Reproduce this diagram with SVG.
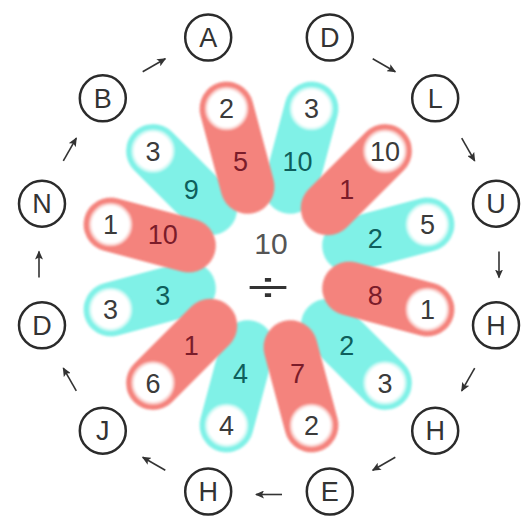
<svg xmlns="http://www.w3.org/2000/svg" width="523" height="522" viewBox="0 0 523 522">
<style>
.red{fill:#f4837d}
.cyan{fill:#80f1e7}
.wr{fill:#fff;stroke:#fad2cf;stroke-width:2.5}
.wc{fill:#fff;stroke:#d0f9f5;stroke-width:2.5}
.num{font-family:"Liberation Sans",Arial,sans-serif;font-size:27px;text-anchor:middle;fill:#3b3b3b}
.nr{fill:#7b1c2a}
.nc{fill:#0e5f5c}
.ring{fill:#fff;stroke:#2b2b2b;stroke-width:2.5}
.let{font-family:"Liberation Sans",Arial,sans-serif;font-size:27px;text-anchor:middle;fill:#333}
.arr{stroke:#333;stroke-width:1.6;fill:none;marker-end:url(#ah)}
.ctr{font-family:"Liberation Sans",Arial,sans-serif;font-size:30px;text-anchor:middle;fill:#555}
.div{font-family:"Liberation Sans",Arial,sans-serif;font-size:42px;text-anchor:middle;fill:#333}
.soft{filter:url(#blur)}
</style>
<defs>
<marker id="ah" markerWidth="10" markerHeight="8" refX="8" refY="4" orient="auto" markerUnits="userSpaceOnUse">
<path d="M0,0 L9,4 L0,8 L2,4 z" fill="#333"/>
</marker>
<filter id="blur" x="-20%" y="-20%" width="140%" height="140%"><feGaussianBlur stdDeviation="0.9"/></filter>
<rect id="pill" x="-27" y="-191" width="54" height="135" rx="27"/>
</defs>
<rect width="523" height="522" fill="#fff"/>

<!-- cyan petals -->
<g id="petal-15"><use href="#pill" class="cyan soft" transform="translate(269 267) rotate(15)"/><circle class="wc soft" cx="311.4" cy="108.6" r="20.5"/><text class="num" x="311.4" y="118.3">3</text><text class="num nc" x="297.5" y="170.5">10</text></g>
<g id="petal-75"><use href="#pill" class="cyan soft" transform="translate(269 267) rotate(75)"/><circle class="wc soft" cx="427.4" cy="224.6" r="20.5"/><text class="num" x="427.4" y="234.3">5</text><text class="num nc" x="375.2" y="248.2">2</text></g>
<g id="petal-135"><use href="#pill" class="cyan soft" transform="translate(269 267) rotate(135)"/><circle class="wc soft" cx="385" cy="383" r="20.5"/><text class="num" x="385" y="392.7">3</text><text class="num nc" x="346.8" y="354.5">2</text></g>
<g id="petal-195"><use href="#pill" class="cyan soft" transform="translate(269 267) rotate(195)"/><circle class="wc soft" cx="226.6" cy="425.4" r="20.5"/><text class="num" x="226.6" y="435.1">4</text><text class="num nc" x="240.5" y="382.9">4</text></g>
<g id="petal-255"><use href="#pill" class="cyan soft" transform="translate(269 267) rotate(255)"/><circle class="wc soft" cx="110.6" cy="309.4" r="20.5"/><text class="num" x="110.6" y="319.1">3</text><text class="num nc" x="162.8" y="305.2">3</text></g>
<g id="petal-315"><use href="#pill" class="cyan soft" transform="translate(269 267) rotate(315)"/><circle class="wc soft" cx="153" cy="151" r="20.5"/><text class="num" x="153" y="160.7">3</text><text class="num nc" x="191.2" y="198.9">9</text></g>

<!-- red petals -->
<g id="petal-345"><use href="#pill" class="red soft" transform="translate(269 267) rotate(-15)"/><circle class="wr soft" cx="226.6" cy="108.6" r="20.5"/><text class="num" x="226.6" y="118.3">2</text><text class="num nr" x="240.5" y="170.5">5</text></g>
<g id="petal-45"><use href="#pill" class="red soft" transform="translate(269 267) rotate(45)"/><circle class="wr soft" cx="385" cy="151" r="20.5"/><text class="num" x="385" y="160.7">10</text><text class="num nr" x="346.8" y="198.9">1</text></g>
<g id="petal-105"><use href="#pill" class="red soft" transform="translate(269 267) rotate(105)"/><circle class="wr soft" cx="427.4" cy="309.4" r="20.5"/><text class="num" x="427.4" y="319.1">1</text><text class="num nr" x="375.2" y="305.2">8</text></g>
<g id="petal-165"><use href="#pill" class="red soft" transform="translate(269 267) rotate(165)"/><circle class="wr soft" cx="311.4" cy="425.4" r="20.5"/><text class="num" x="311.4" y="435.1">2</text><text class="num nr" x="297.5" y="382.9">7</text></g>
<g id="petal-225"><use href="#pill" class="red soft" transform="translate(269 267) rotate(225)"/><circle class="wr soft" cx="153" cy="383" r="20.5"/><text class="num" x="153" y="392.7">6</text><text class="num nr" x="191.2" y="354.5">1</text></g>
<g id="petal-285"><use href="#pill" class="red soft" transform="translate(269 267) rotate(285)"/><circle class="wr soft" cx="110.6" cy="224.6" r="20.5"/><text class="num" x="110.6" y="234.3">1</text><text class="num nr" x="162.8" y="244.2">10</text></g>

<!-- center -->
<g id="center">
<text class="ctr" x="271" y="254">10</text>
<text class="div" x="0" y="302" transform="translate(268 0) scale(1.8 1)">÷</text>
</g>

<!-- letter nodes -->
<g id="n-A"><circle class="ring" cx="208.2" cy="37.5" r="23"/><text class="let" x="208.2" y="47.2">A</text></g>
<g id="n-D1"><circle class="ring" cx="329.8" cy="37.5" r="23"/><text class="let" x="329.8" y="47.2">D</text></g>
<g id="n-L"><circle class="ring" cx="435.2" cy="98.3" r="23"/><text class="let" x="435.2" y="108">L</text></g>
<g id="n-U"><circle class="ring" cx="496" cy="203.7" r="23"/><text class="let" x="496" y="213.4">U</text></g>
<g id="n-H1"><circle class="ring" cx="496" cy="325.3" r="23"/><text class="let" x="496" y="335">H</text></g>
<g id="n-H2"><circle class="ring" cx="435.2" cy="430.7" r="23"/><text class="let" x="435.2" y="440.4">H</text></g>
<g id="n-E"><circle class="ring" cx="329.8" cy="491.5" r="23"/><text class="let" x="329.8" y="501.2">E</text></g>
<g id="n-H3"><circle class="ring" cx="208.2" cy="491.5" r="23"/><text class="let" x="208.2" y="501.2">H</text></g>
<g id="n-J"><circle class="ring" cx="102.8" cy="430.7" r="23"/><text class="let" x="102.8" y="440.4">J</text></g>
<g id="n-D2"><circle class="ring" cx="42" cy="325.3" r="23"/><text class="let" x="42" y="335">D</text></g>
<g id="n-N"><circle class="ring" cx="42" cy="203.7" r="23"/><text class="let" x="42" y="213.4">N</text></g>
<g id="n-B"><circle class="ring" cx="102.8" cy="98.3" r="23"/><text class="let" x="102.8" y="108">B</text></g>

<!-- connectors -->
<g id="connectors">
<line class="arr" x1="372.7" y1="58.8" x2="395.3" y2="71.8"/>
<line class="arr" x1="461.7" y1="138.2" x2="474.7" y2="160.8"/>
<line class="arr" x1="499" y1="251.5" x2="499" y2="277.5"/>
<line class="arr" x1="474.7" y1="368.2" x2="461.7" y2="390.8"/>
<line class="arr" x1="395.3" y1="457.2" x2="372.7" y2="470.2"/>
<line class="arr" x1="282" y1="494.5" x2="256" y2="494.5"/>
<line class="arr" x1="165.3" y1="470.2" x2="142.7" y2="457.2"/>
<line class="arr" x1="76.3" y1="390.8" x2="63.3" y2="368.2"/>
<line class="arr" x1="39" y1="277.5" x2="39" y2="251.5"/>
<line class="arr" x1="63.3" y1="160.8" x2="76.3" y2="138.2"/>
<line class="arr" x1="142.7" y1="71.8" x2="165.3" y2="58.8"/>
</g>
</svg>
